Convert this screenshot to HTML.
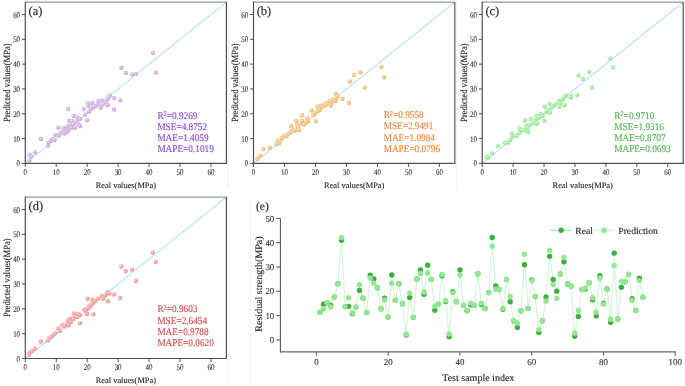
<!DOCTYPE html>
<html><head><meta charset="utf-8"><style>
html,body{margin:0;padding:0;background:#fff;}
svg{display:block;font-family:"Liberation Serif", serif;will-change:transform;text-rendering:geometricPrecision;}
</style></head><body>
<svg width="685" height="386" viewBox="0 0 685 386">
<defs><radialGradient id="ga" cx="0.5" cy="0.5" r="0.5" fx="0.32" fy="0.32"><stop offset="0" stop-color="#fbf6fd"/><stop offset="0.45" stop-color="#d6b6e5"/><stop offset="1" stop-color="#c29bd5"/></radialGradient><radialGradient id="gb" cx="0.5" cy="0.5" r="0.5" fx="0.32" fy="0.32"><stop offset="0" stop-color="#fff8ee"/><stop offset="0.45" stop-color="#f5c887"/><stop offset="1" stop-color="#e9ad62"/></radialGradient><radialGradient id="gc" cx="0.5" cy="0.5" r="0.5" fx="0.32" fy="0.32"><stop offset="0" stop-color="#f4fff4"/><stop offset="0.45" stop-color="#a6efa6"/><stop offset="1" stop-color="#88de88"/></radialGradient><radialGradient id="gd" cx="0.5" cy="0.5" r="0.5" fx="0.32" fy="0.32"><stop offset="0" stop-color="#fff3f3"/><stop offset="0.45" stop-color="#f5a5a5"/><stop offset="1" stop-color="#ea8a8a"/></radialGradient></defs>
<line x1="25.3" y1="163.4" x2="226.4" y2="2.1" stroke="#94d6f7" stroke-width="0.95"/>
<circle cx="29.40" cy="160.50" r="2.25" fill="url(#ga)" stroke="#fff" stroke-opacity="0.6" stroke-width="0.4"/>
<circle cx="29.70" cy="154.70" r="2.25" fill="url(#ga)" stroke="#fff" stroke-opacity="0.6" stroke-width="0.4"/>
<circle cx="31.20" cy="156.60" r="2.25" fill="url(#ga)" stroke="#fff" stroke-opacity="0.6" stroke-width="0.4"/>
<circle cx="35.00" cy="152.20" r="2.25" fill="url(#ga)" stroke="#fff" stroke-opacity="0.6" stroke-width="0.4"/>
<circle cx="40.90" cy="139.10" r="2.25" fill="url(#ga)" stroke="#fff" stroke-opacity="0.6" stroke-width="0.4"/>
<circle cx="48.00" cy="145.60" r="2.25" fill="url(#ga)" stroke="#fff" stroke-opacity="0.6" stroke-width="0.4"/>
<circle cx="48.60" cy="142.90" r="2.25" fill="url(#ga)" stroke="#fff" stroke-opacity="0.6" stroke-width="0.4"/>
<circle cx="87.80" cy="103.30" r="2.25" fill="url(#ga)" stroke="#fff" stroke-opacity="0.6" stroke-width="0.4"/>
<circle cx="121.40" cy="67.80" r="2.25" fill="url(#ga)" stroke="#fff" stroke-opacity="0.6" stroke-width="0.4"/>
<circle cx="125.80" cy="73.00" r="2.25" fill="url(#ga)" stroke="#fff" stroke-opacity="0.6" stroke-width="0.4"/>
<circle cx="132.10" cy="74.50" r="2.25" fill="url(#ga)" stroke="#fff" stroke-opacity="0.6" stroke-width="0.4"/>
<circle cx="135.90" cy="73.90" r="2.25" fill="url(#ga)" stroke="#fff" stroke-opacity="0.6" stroke-width="0.4"/>
<circle cx="153.00" cy="52.90" r="2.25" fill="url(#ga)" stroke="#fff" stroke-opacity="0.6" stroke-width="0.4"/>
<circle cx="155.90" cy="72.60" r="2.25" fill="url(#ga)" stroke="#fff" stroke-opacity="0.6" stroke-width="0.4"/>
<circle cx="68.10" cy="109.10" r="2.25" fill="url(#ga)" stroke="#fff" stroke-opacity="0.6" stroke-width="0.4"/>
<circle cx="83.70" cy="108.90" r="2.25" fill="url(#ga)" stroke="#fff" stroke-opacity="0.6" stroke-width="0.4"/>
<circle cx="88.30" cy="105.80" r="2.25" fill="url(#ga)" stroke="#fff" stroke-opacity="0.6" stroke-width="0.4"/>
<circle cx="88.90" cy="111.70" r="2.25" fill="url(#ga)" stroke="#fff" stroke-opacity="0.6" stroke-width="0.4"/>
<circle cx="85.20" cy="114.80" r="2.25" fill="url(#ga)" stroke="#fff" stroke-opacity="0.6" stroke-width="0.4"/>
<circle cx="87.10" cy="120.30" r="2.25" fill="url(#ga)" stroke="#fff" stroke-opacity="0.6" stroke-width="0.4"/>
<circle cx="73.80" cy="115.90" r="2.25" fill="url(#ga)" stroke="#fff" stroke-opacity="0.6" stroke-width="0.4"/>
<circle cx="77.50" cy="117.40" r="2.25" fill="url(#ga)" stroke="#fff" stroke-opacity="0.6" stroke-width="0.4"/>
<circle cx="80.10" cy="119.00" r="2.25" fill="url(#ga)" stroke="#fff" stroke-opacity="0.6" stroke-width="0.4"/>
<circle cx="69.00" cy="120.80" r="2.25" fill="url(#ga)" stroke="#fff" stroke-opacity="0.6" stroke-width="0.4"/>
<circle cx="72.30" cy="121.10" r="2.25" fill="url(#ga)" stroke="#fff" stroke-opacity="0.6" stroke-width="0.4"/>
<circle cx="76.40" cy="121.60" r="2.25" fill="url(#ga)" stroke="#fff" stroke-opacity="0.6" stroke-width="0.4"/>
<circle cx="78.50" cy="124.20" r="2.25" fill="url(#ga)" stroke="#fff" stroke-opacity="0.6" stroke-width="0.4"/>
<circle cx="80.10" cy="126.20" r="2.25" fill="url(#ga)" stroke="#fff" stroke-opacity="0.6" stroke-width="0.4"/>
<circle cx="73.30" cy="124.20" r="2.25" fill="url(#ga)" stroke="#fff" stroke-opacity="0.6" stroke-width="0.4"/>
<circle cx="70.20" cy="124.70" r="2.25" fill="url(#ga)" stroke="#fff" stroke-opacity="0.6" stroke-width="0.4"/>
<circle cx="67.60" cy="126.20" r="2.25" fill="url(#ga)" stroke="#fff" stroke-opacity="0.6" stroke-width="0.4"/>
<circle cx="74.90" cy="127.80" r="2.25" fill="url(#ga)" stroke="#fff" stroke-opacity="0.6" stroke-width="0.4"/>
<circle cx="71.80" cy="127.80" r="2.25" fill="url(#ga)" stroke="#fff" stroke-opacity="0.6" stroke-width="0.4"/>
<circle cx="68.70" cy="129.90" r="2.25" fill="url(#ga)" stroke="#fff" stroke-opacity="0.6" stroke-width="0.4"/>
<circle cx="65.50" cy="128.30" r="2.25" fill="url(#ga)" stroke="#fff" stroke-opacity="0.6" stroke-width="0.4"/>
<circle cx="63.50" cy="128.30" r="2.25" fill="url(#ga)" stroke="#fff" stroke-opacity="0.6" stroke-width="0.4"/>
<circle cx="58.30" cy="127.80" r="2.25" fill="url(#ga)" stroke="#fff" stroke-opacity="0.6" stroke-width="0.4"/>
<circle cx="63.00" cy="130.90" r="2.25" fill="url(#ga)" stroke="#fff" stroke-opacity="0.6" stroke-width="0.4"/>
<circle cx="67.10" cy="131.90" r="2.25" fill="url(#ga)" stroke="#fff" stroke-opacity="0.6" stroke-width="0.4"/>
<circle cx="60.40" cy="133.00" r="2.25" fill="url(#ga)" stroke="#fff" stroke-opacity="0.6" stroke-width="0.4"/>
<circle cx="64.50" cy="133.50" r="2.25" fill="url(#ga)" stroke="#fff" stroke-opacity="0.6" stroke-width="0.4"/>
<circle cx="55.20" cy="135.10" r="2.25" fill="url(#ga)" stroke="#fff" stroke-opacity="0.6" stroke-width="0.4"/>
<circle cx="58.80" cy="135.60" r="2.25" fill="url(#ga)" stroke="#fff" stroke-opacity="0.6" stroke-width="0.4"/>
<circle cx="52.60" cy="139.20" r="2.25" fill="url(#ga)" stroke="#fff" stroke-opacity="0.6" stroke-width="0.4"/>
<circle cx="54.70" cy="140.20" r="2.25" fill="url(#ga)" stroke="#fff" stroke-opacity="0.6" stroke-width="0.4"/>
<circle cx="51.00" cy="140.80" r="2.25" fill="url(#ga)" stroke="#fff" stroke-opacity="0.6" stroke-width="0.4"/>
<circle cx="92.30" cy="103.10" r="2.25" fill="url(#ga)" stroke="#fff" stroke-opacity="0.6" stroke-width="0.4"/>
<circle cx="98.30" cy="101.10" r="2.25" fill="url(#ga)" stroke="#fff" stroke-opacity="0.6" stroke-width="0.4"/>
<circle cx="102.10" cy="100.50" r="2.25" fill="url(#ga)" stroke="#fff" stroke-opacity="0.6" stroke-width="0.4"/>
<circle cx="109.90" cy="95.40" r="2.25" fill="url(#ga)" stroke="#fff" stroke-opacity="0.6" stroke-width="0.4"/>
<circle cx="108.30" cy="97.40" r="2.25" fill="url(#ga)" stroke="#fff" stroke-opacity="0.6" stroke-width="0.4"/>
<circle cx="114.00" cy="98.00" r="2.25" fill="url(#ga)" stroke="#fff" stroke-opacity="0.6" stroke-width="0.4"/>
<circle cx="120.20" cy="100.30" r="2.25" fill="url(#ga)" stroke="#fff" stroke-opacity="0.6" stroke-width="0.4"/>
<circle cx="107.30" cy="99.50" r="2.25" fill="url(#ga)" stroke="#fff" stroke-opacity="0.6" stroke-width="0.4"/>
<circle cx="105.70" cy="102.10" r="2.25" fill="url(#ga)" stroke="#fff" stroke-opacity="0.6" stroke-width="0.4"/>
<circle cx="103.70" cy="103.70" r="2.25" fill="url(#ga)" stroke="#fff" stroke-opacity="0.6" stroke-width="0.4"/>
<circle cx="107.80" cy="105.20" r="2.25" fill="url(#ga)" stroke="#fff" stroke-opacity="0.6" stroke-width="0.4"/>
<circle cx="101.60" cy="105.70" r="2.25" fill="url(#ga)" stroke="#fff" stroke-opacity="0.6" stroke-width="0.4"/>
<circle cx="100.50" cy="107.80" r="2.25" fill="url(#ga)" stroke="#fff" stroke-opacity="0.6" stroke-width="0.4"/>
<circle cx="97.40" cy="104.70" r="2.25" fill="url(#ga)" stroke="#fff" stroke-opacity="0.6" stroke-width="0.4"/>
<circle cx="95.40" cy="106.20" r="2.25" fill="url(#ga)" stroke="#fff" stroke-opacity="0.6" stroke-width="0.4"/>
<circle cx="93.30" cy="107.30" r="2.25" fill="url(#ga)" stroke="#fff" stroke-opacity="0.6" stroke-width="0.4"/>
<circle cx="91.20" cy="108.80" r="2.25" fill="url(#ga)" stroke="#fff" stroke-opacity="0.6" stroke-width="0.4"/>
<circle cx="114.00" cy="109.60" r="2.25" fill="url(#ga)" stroke="#fff" stroke-opacity="0.6" stroke-width="0.4"/>
<line x1="25.3" y1="2.1" x2="226.4" y2="2.1" stroke="#999" stroke-width="1.2"/>
<line x1="226.4" y1="2.1" x2="226.4" y2="163.4" stroke="#505050" stroke-width="1.2"/>
<line x1="25.3" y1="1.5" x2="25.3" y2="164.0" stroke="#505050" stroke-width="1.2"/>
<line x1="24.7" y1="163.4" x2="227.0" y2="163.4" stroke="#505050" stroke-width="1.2"/>
<line x1="25.30" y1="163.4" x2="25.30" y2="167.0" stroke="#505050" stroke-width="1"/>
<text transform="translate(25.30,175.30) scale(0.82,1)" font-size="8.5" text-anchor="middle" fill="#333" stroke="#333" stroke-width="0.12">0</text>
<line x1="21.900000000000002" y1="163.40" x2="25.3" y2="163.40" stroke="#505050" stroke-width="1"/>
<text transform="translate(20.10,166.40) scale(0.82,1)" font-size="8.5" text-anchor="end" fill="#333" stroke="#333" stroke-width="0.12">0</text>
<line x1="56.24" y1="163.4" x2="56.24" y2="167.0" stroke="#505050" stroke-width="1"/>
<text transform="translate(56.24,175.30) scale(0.82,1)" font-size="8.5" text-anchor="middle" fill="#333" stroke="#333" stroke-width="0.12">10</text>
<line x1="21.900000000000002" y1="138.58" x2="25.3" y2="138.58" stroke="#505050" stroke-width="1"/>
<text transform="translate(20.10,141.58) scale(0.82,1)" font-size="8.5" text-anchor="end" fill="#333" stroke="#333" stroke-width="0.12">10</text>
<line x1="87.18" y1="163.4" x2="87.18" y2="167.0" stroke="#505050" stroke-width="1"/>
<text transform="translate(87.18,175.30) scale(0.82,1)" font-size="8.5" text-anchor="middle" fill="#333" stroke="#333" stroke-width="0.12">20</text>
<line x1="21.900000000000002" y1="113.77" x2="25.3" y2="113.77" stroke="#505050" stroke-width="1"/>
<text transform="translate(20.10,116.77) scale(0.82,1)" font-size="8.5" text-anchor="end" fill="#333" stroke="#333" stroke-width="0.12">20</text>
<line x1="118.12" y1="163.4" x2="118.12" y2="167.0" stroke="#505050" stroke-width="1"/>
<text transform="translate(118.12,175.30) scale(0.82,1)" font-size="8.5" text-anchor="middle" fill="#333" stroke="#333" stroke-width="0.12">30</text>
<line x1="21.900000000000002" y1="88.95" x2="25.3" y2="88.95" stroke="#505050" stroke-width="1"/>
<text transform="translate(20.10,91.95) scale(0.82,1)" font-size="8.5" text-anchor="end" fill="#333" stroke="#333" stroke-width="0.12">30</text>
<line x1="149.05" y1="163.4" x2="149.05" y2="167.0" stroke="#505050" stroke-width="1"/>
<text transform="translate(149.05,175.30) scale(0.82,1)" font-size="8.5" text-anchor="middle" fill="#333" stroke="#333" stroke-width="0.12">40</text>
<line x1="21.900000000000002" y1="64.14" x2="25.3" y2="64.14" stroke="#505050" stroke-width="1"/>
<text transform="translate(20.10,67.14) scale(0.82,1)" font-size="8.5" text-anchor="end" fill="#333" stroke="#333" stroke-width="0.12">40</text>
<line x1="179.99" y1="163.4" x2="179.99" y2="167.0" stroke="#505050" stroke-width="1"/>
<text transform="translate(179.99,175.30) scale(0.82,1)" font-size="8.5" text-anchor="middle" fill="#333" stroke="#333" stroke-width="0.12">50</text>
<line x1="21.900000000000002" y1="39.32" x2="25.3" y2="39.32" stroke="#505050" stroke-width="1"/>
<text transform="translate(20.10,42.32) scale(0.82,1)" font-size="8.5" text-anchor="end" fill="#333" stroke="#333" stroke-width="0.12">50</text>
<line x1="210.93" y1="163.4" x2="210.93" y2="167.0" stroke="#505050" stroke-width="1"/>
<text transform="translate(210.93,175.30) scale(0.82,1)" font-size="8.5" text-anchor="middle" fill="#333" stroke="#333" stroke-width="0.12">60</text>
<line x1="21.900000000000002" y1="14.51" x2="25.3" y2="14.51" stroke="#505050" stroke-width="1"/>
<text transform="translate(20.10,17.51) scale(0.82,1)" font-size="8.5" text-anchor="end" fill="#333" stroke="#333" stroke-width="0.12">60</text>
<text x="125.9" y="188.0" font-size="8.4" text-anchor="middle" fill="#222" stroke="#222" stroke-width="0.12">Real values(MPa)</text>
<text transform="translate(9.8,82.7) rotate(-90) scale(1,1.1)" font-size="8.65" text-anchor="middle" fill="#222" stroke="#222" stroke-width="0.12">Predicted values(MPa)</text>
<text x="28.5" y="14.5" font-size="12.5" fill="#222" stroke="#222" stroke-width="0.12">(a)</text>
<text transform="translate(157.4,118.5) scale(1,1.1)" font-size="9.25" fill="#8e44d0" stroke="#8e44d0" stroke-width="0.12">R<tspan font-size="6.4" dy="-2.3">2</tspan><tspan dy="2.3">=</tspan>0.9269</text>
<text transform="translate(157.4,129.7) scale(1,1.1)" font-size="9.25" fill="#8e44d0" stroke="#8e44d0" stroke-width="0.12">MSE=4.8752</text>
<text transform="translate(157.4,140.9) scale(1,1.1)" font-size="9.25" fill="#8e44d0" stroke="#8e44d0" stroke-width="0.12">MAE=1.4059</text>
<text transform="translate(157.4,152.1) scale(1,1.1)" font-size="9.25" fill="#8e44d0" stroke="#8e44d0" stroke-width="0.12">MAPE=0.1019</text>
<line x1="253.5" y1="163.4" x2="454.9" y2="2.1" stroke="#94d6f7" stroke-width="0.95"/>
<circle cx="257.40" cy="159.00" r="2.25" fill="url(#gb)" stroke="#fff" stroke-opacity="0.6" stroke-width="0.4"/>
<circle cx="258.60" cy="157.20" r="2.25" fill="url(#gb)" stroke="#fff" stroke-opacity="0.6" stroke-width="0.4"/>
<circle cx="260.50" cy="155.90" r="2.25" fill="url(#gb)" stroke="#fff" stroke-opacity="0.6" stroke-width="0.4"/>
<circle cx="263.20" cy="149.10" r="2.25" fill="url(#gb)" stroke="#fff" stroke-opacity="0.6" stroke-width="0.4"/>
<circle cx="269.80" cy="147.90" r="2.25" fill="url(#gb)" stroke="#fff" stroke-opacity="0.6" stroke-width="0.4"/>
<circle cx="353.90" cy="75.00" r="2.25" fill="url(#gb)" stroke="#fff" stroke-opacity="0.6" stroke-width="0.4"/>
<circle cx="360.50" cy="72.60" r="2.25" fill="url(#gb)" stroke="#fff" stroke-opacity="0.6" stroke-width="0.4"/>
<circle cx="349.90" cy="81.60" r="2.25" fill="url(#gb)" stroke="#fff" stroke-opacity="0.6" stroke-width="0.4"/>
<circle cx="348.90" cy="103.00" r="2.25" fill="url(#gb)" stroke="#fff" stroke-opacity="0.6" stroke-width="0.4"/>
<circle cx="364.50" cy="87.50" r="2.25" fill="url(#gb)" stroke="#fff" stroke-opacity="0.6" stroke-width="0.4"/>
<circle cx="381.40" cy="66.90" r="2.25" fill="url(#gb)" stroke="#fff" stroke-opacity="0.6" stroke-width="0.4"/>
<circle cx="384.20" cy="77.20" r="2.25" fill="url(#gb)" stroke="#fff" stroke-opacity="0.6" stroke-width="0.4"/>
<circle cx="276.70" cy="144.20" r="2.25" fill="url(#gb)" stroke="#fff" stroke-opacity="0.6" stroke-width="0.4"/>
<circle cx="277.80" cy="141.10" r="2.25" fill="url(#gb)" stroke="#fff" stroke-opacity="0.6" stroke-width="0.4"/>
<circle cx="280.40" cy="140.10" r="2.25" fill="url(#gb)" stroke="#fff" stroke-opacity="0.6" stroke-width="0.4"/>
<circle cx="281.90" cy="138.00" r="2.25" fill="url(#gb)" stroke="#fff" stroke-opacity="0.6" stroke-width="0.4"/>
<circle cx="284.00" cy="135.40" r="2.25" fill="url(#gb)" stroke="#fff" stroke-opacity="0.6" stroke-width="0.4"/>
<circle cx="286.60" cy="135.90" r="2.25" fill="url(#gb)" stroke="#fff" stroke-opacity="0.6" stroke-width="0.4"/>
<circle cx="288.10" cy="133.80" r="2.25" fill="url(#gb)" stroke="#fff" stroke-opacity="0.6" stroke-width="0.4"/>
<circle cx="290.70" cy="132.30" r="2.25" fill="url(#gb)" stroke="#fff" stroke-opacity="0.6" stroke-width="0.4"/>
<circle cx="291.20" cy="126.10" r="2.25" fill="url(#gb)" stroke="#fff" stroke-opacity="0.6" stroke-width="0.4"/>
<circle cx="292.80" cy="129.20" r="2.25" fill="url(#gb)" stroke="#fff" stroke-opacity="0.6" stroke-width="0.4"/>
<circle cx="294.90" cy="130.70" r="2.25" fill="url(#gb)" stroke="#fff" stroke-opacity="0.6" stroke-width="0.4"/>
<circle cx="296.40" cy="120.90" r="2.25" fill="url(#gb)" stroke="#fff" stroke-opacity="0.6" stroke-width="0.4"/>
<circle cx="297.20" cy="125.00" r="2.25" fill="url(#gb)" stroke="#fff" stroke-opacity="0.6" stroke-width="0.4"/>
<circle cx="298.00" cy="127.60" r="2.25" fill="url(#gb)" stroke="#fff" stroke-opacity="0.6" stroke-width="0.4"/>
<circle cx="299.00" cy="130.20" r="2.25" fill="url(#gb)" stroke="#fff" stroke-opacity="0.6" stroke-width="0.4"/>
<circle cx="301.10" cy="123.50" r="2.25" fill="url(#gb)" stroke="#fff" stroke-opacity="0.6" stroke-width="0.4"/>
<circle cx="302.10" cy="115.20" r="2.25" fill="url(#gb)" stroke="#fff" stroke-opacity="0.6" stroke-width="0.4"/>
<circle cx="302.10" cy="120.90" r="2.25" fill="url(#gb)" stroke="#fff" stroke-opacity="0.6" stroke-width="0.4"/>
<circle cx="304.20" cy="124.50" r="2.25" fill="url(#gb)" stroke="#fff" stroke-opacity="0.6" stroke-width="0.4"/>
<circle cx="279.30" cy="143.20" r="2.25" fill="url(#gb)" stroke="#fff" stroke-opacity="0.6" stroke-width="0.4"/>
<circle cx="307.10" cy="118.20" r="2.25" fill="url(#gb)" stroke="#fff" stroke-opacity="0.6" stroke-width="0.4"/>
<circle cx="308.10" cy="121.30" r="2.25" fill="url(#gb)" stroke="#fff" stroke-opacity="0.6" stroke-width="0.4"/>
<circle cx="306.60" cy="122.30" r="2.25" fill="url(#gb)" stroke="#fff" stroke-opacity="0.6" stroke-width="0.4"/>
<circle cx="311.70" cy="110.40" r="2.25" fill="url(#gb)" stroke="#fff" stroke-opacity="0.6" stroke-width="0.4"/>
<circle cx="313.30" cy="115.10" r="2.25" fill="url(#gb)" stroke="#fff" stroke-opacity="0.6" stroke-width="0.4"/>
<circle cx="315.90" cy="121.30" r="2.25" fill="url(#gb)" stroke="#fff" stroke-opacity="0.6" stroke-width="0.4"/>
<circle cx="315.40" cy="113.00" r="2.25" fill="url(#gb)" stroke="#fff" stroke-opacity="0.6" stroke-width="0.4"/>
<circle cx="317.40" cy="106.80" r="2.25" fill="url(#gb)" stroke="#fff" stroke-opacity="0.6" stroke-width="0.4"/>
<circle cx="318.00" cy="110.90" r="2.25" fill="url(#gb)" stroke="#fff" stroke-opacity="0.6" stroke-width="0.4"/>
<circle cx="320.00" cy="109.90" r="2.25" fill="url(#gb)" stroke="#fff" stroke-opacity="0.6" stroke-width="0.4"/>
<circle cx="320.50" cy="105.70" r="2.25" fill="url(#gb)" stroke="#fff" stroke-opacity="0.6" stroke-width="0.4"/>
<circle cx="323.10" cy="106.80" r="2.25" fill="url(#gb)" stroke="#fff" stroke-opacity="0.6" stroke-width="0.4"/>
<circle cx="324.20" cy="104.20" r="2.25" fill="url(#gb)" stroke="#fff" stroke-opacity="0.6" stroke-width="0.4"/>
<circle cx="326.20" cy="104.70" r="2.25" fill="url(#gb)" stroke="#fff" stroke-opacity="0.6" stroke-width="0.4"/>
<circle cx="327.30" cy="103.10" r="2.25" fill="url(#gb)" stroke="#fff" stroke-opacity="0.6" stroke-width="0.4"/>
<circle cx="329.90" cy="101.10" r="2.25" fill="url(#gb)" stroke="#fff" stroke-opacity="0.6" stroke-width="0.4"/>
<circle cx="330.90" cy="105.70" r="2.25" fill="url(#gb)" stroke="#fff" stroke-opacity="0.6" stroke-width="0.4"/>
<circle cx="331.90" cy="102.10" r="2.25" fill="url(#gb)" stroke="#fff" stroke-opacity="0.6" stroke-width="0.4"/>
<circle cx="333.00" cy="99.50" r="2.25" fill="url(#gb)" stroke="#fff" stroke-opacity="0.6" stroke-width="0.4"/>
<circle cx="335.60" cy="101.10" r="2.25" fill="url(#gb)" stroke="#fff" stroke-opacity="0.6" stroke-width="0.4"/>
<circle cx="336.10" cy="98.50" r="2.25" fill="url(#gb)" stroke="#fff" stroke-opacity="0.6" stroke-width="0.4"/>
<circle cx="335.60" cy="93.80" r="2.25" fill="url(#gb)" stroke="#fff" stroke-opacity="0.6" stroke-width="0.4"/>
<circle cx="337.60" cy="95.90" r="2.25" fill="url(#gb)" stroke="#fff" stroke-opacity="0.6" stroke-width="0.4"/>
<circle cx="342.30" cy="99.00" r="2.25" fill="url(#gb)" stroke="#fff" stroke-opacity="0.6" stroke-width="0.4"/>
<line x1="253.5" y1="2.1" x2="454.9" y2="2.1" stroke="#999" stroke-width="1.2"/>
<line x1="454.9" y1="2.1" x2="454.9" y2="163.4" stroke="#505050" stroke-width="1.2"/>
<line x1="253.5" y1="1.5" x2="253.5" y2="164.0" stroke="#505050" stroke-width="1.2"/>
<line x1="252.9" y1="163.4" x2="455.5" y2="163.4" stroke="#505050" stroke-width="1.2"/>
<line x1="253.50" y1="163.4" x2="253.50" y2="167.0" stroke="#505050" stroke-width="1"/>
<text transform="translate(253.50,175.30) scale(0.82,1)" font-size="8.5" text-anchor="middle" fill="#333" stroke="#333" stroke-width="0.12">0</text>
<line x1="250.1" y1="163.40" x2="253.5" y2="163.40" stroke="#505050" stroke-width="1"/>
<text transform="translate(248.30,166.40) scale(0.82,1)" font-size="8.5" text-anchor="end" fill="#333" stroke="#333" stroke-width="0.12">0</text>
<line x1="284.48" y1="163.4" x2="284.48" y2="167.0" stroke="#505050" stroke-width="1"/>
<text transform="translate(284.48,175.30) scale(0.82,1)" font-size="8.5" text-anchor="middle" fill="#333" stroke="#333" stroke-width="0.12">10</text>
<line x1="250.1" y1="138.58" x2="253.5" y2="138.58" stroke="#505050" stroke-width="1"/>
<text transform="translate(248.30,141.58) scale(0.82,1)" font-size="8.5" text-anchor="end" fill="#333" stroke="#333" stroke-width="0.12">10</text>
<line x1="315.47" y1="163.4" x2="315.47" y2="167.0" stroke="#505050" stroke-width="1"/>
<text transform="translate(315.47,175.30) scale(0.82,1)" font-size="8.5" text-anchor="middle" fill="#333" stroke="#333" stroke-width="0.12">20</text>
<line x1="250.1" y1="113.77" x2="253.5" y2="113.77" stroke="#505050" stroke-width="1"/>
<text transform="translate(248.30,116.77) scale(0.82,1)" font-size="8.5" text-anchor="end" fill="#333" stroke="#333" stroke-width="0.12">20</text>
<line x1="346.45" y1="163.4" x2="346.45" y2="167.0" stroke="#505050" stroke-width="1"/>
<text transform="translate(346.45,175.30) scale(0.82,1)" font-size="8.5" text-anchor="middle" fill="#333" stroke="#333" stroke-width="0.12">30</text>
<line x1="250.1" y1="88.95" x2="253.5" y2="88.95" stroke="#505050" stroke-width="1"/>
<text transform="translate(248.30,91.95) scale(0.82,1)" font-size="8.5" text-anchor="end" fill="#333" stroke="#333" stroke-width="0.12">30</text>
<line x1="377.44" y1="163.4" x2="377.44" y2="167.0" stroke="#505050" stroke-width="1"/>
<text transform="translate(377.44,175.30) scale(0.82,1)" font-size="8.5" text-anchor="middle" fill="#333" stroke="#333" stroke-width="0.12">40</text>
<line x1="250.1" y1="64.14" x2="253.5" y2="64.14" stroke="#505050" stroke-width="1"/>
<text transform="translate(248.30,67.14) scale(0.82,1)" font-size="8.5" text-anchor="end" fill="#333" stroke="#333" stroke-width="0.12">40</text>
<line x1="408.42" y1="163.4" x2="408.42" y2="167.0" stroke="#505050" stroke-width="1"/>
<text transform="translate(408.42,175.30) scale(0.82,1)" font-size="8.5" text-anchor="middle" fill="#333" stroke="#333" stroke-width="0.12">50</text>
<line x1="250.1" y1="39.32" x2="253.5" y2="39.32" stroke="#505050" stroke-width="1"/>
<text transform="translate(248.30,42.32) scale(0.82,1)" font-size="8.5" text-anchor="end" fill="#333" stroke="#333" stroke-width="0.12">50</text>
<line x1="439.41" y1="163.4" x2="439.41" y2="167.0" stroke="#505050" stroke-width="1"/>
<text transform="translate(439.41,175.30) scale(0.82,1)" font-size="8.5" text-anchor="middle" fill="#333" stroke="#333" stroke-width="0.12">60</text>
<line x1="250.1" y1="14.51" x2="253.5" y2="14.51" stroke="#505050" stroke-width="1"/>
<text transform="translate(248.30,17.51) scale(0.82,1)" font-size="8.5" text-anchor="end" fill="#333" stroke="#333" stroke-width="0.12">60</text>
<text x="354.2" y="188.0" font-size="8.4" text-anchor="middle" fill="#222" stroke="#222" stroke-width="0.12">Real values(MPa)</text>
<text transform="translate(238.0,82.7) rotate(-90) scale(1,1.1)" font-size="8.65" text-anchor="middle" fill="#222" stroke="#222" stroke-width="0.12">Predicted values(MPa)</text>
<text x="256.7" y="14.5" font-size="12.5" fill="#222" stroke="#222" stroke-width="0.12">(b)</text>
<text transform="translate(383.7,118.2) scale(1,1.1)" font-size="9.25" fill="#ef8635" stroke="#ef8635" stroke-width="0.12">R<tspan font-size="6.4" dy="-2.3">2</tspan><tspan dy="2.3">=</tspan>0.9558</text>
<text transform="translate(383.7,129.4) scale(1,1.1)" font-size="9.25" fill="#ef8635" stroke="#ef8635" stroke-width="0.12">MSE=2.9491</text>
<text transform="translate(383.7,140.6) scale(1,1.1)" font-size="9.25" fill="#ef8635" stroke="#ef8635" stroke-width="0.12">MAE=1.0984</text>
<text transform="translate(383.7,151.8) scale(1,1.1)" font-size="9.25" fill="#ef8635" stroke="#ef8635" stroke-width="0.12">MAPE=0.0796</text>
<line x1="482.2" y1="163.4" x2="683.2" y2="2.1" stroke="#94d6f7" stroke-width="0.95"/>
<circle cx="486.40" cy="157.20" r="2.25" fill="url(#gc)" stroke="#fff" stroke-opacity="0.6" stroke-width="0.4"/>
<circle cx="488.20" cy="157.60" r="2.25" fill="url(#gc)" stroke="#fff" stroke-opacity="0.6" stroke-width="0.4"/>
<circle cx="492.00" cy="153.40" r="2.25" fill="url(#gc)" stroke="#fff" stroke-opacity="0.6" stroke-width="0.4"/>
<circle cx="497.90" cy="146.00" r="2.25" fill="url(#gc)" stroke="#fff" stroke-opacity="0.6" stroke-width="0.4"/>
<circle cx="578.40" cy="75.40" r="2.25" fill="url(#gc)" stroke="#fff" stroke-opacity="0.6" stroke-width="0.4"/>
<circle cx="582.80" cy="79.10" r="2.25" fill="url(#gc)" stroke="#fff" stroke-opacity="0.6" stroke-width="0.4"/>
<circle cx="589.10" cy="71.90" r="2.25" fill="url(#gc)" stroke="#fff" stroke-opacity="0.6" stroke-width="0.4"/>
<circle cx="591.90" cy="87.60" r="2.25" fill="url(#gc)" stroke="#fff" stroke-opacity="0.6" stroke-width="0.4"/>
<circle cx="577.40" cy="94.90" r="2.25" fill="url(#gc)" stroke="#fff" stroke-opacity="0.6" stroke-width="0.4"/>
<circle cx="610.10" cy="58.70" r="2.25" fill="url(#gc)" stroke="#fff" stroke-opacity="0.6" stroke-width="0.4"/>
<circle cx="613.00" cy="67.60" r="2.25" fill="url(#gc)" stroke="#fff" stroke-opacity="0.6" stroke-width="0.4"/>
<circle cx="504.70" cy="142.80" r="2.25" fill="url(#gc)" stroke="#fff" stroke-opacity="0.6" stroke-width="0.4"/>
<circle cx="507.80" cy="142.80" r="2.25" fill="url(#gc)" stroke="#fff" stroke-opacity="0.6" stroke-width="0.4"/>
<circle cx="510.40" cy="139.70" r="2.25" fill="url(#gc)" stroke="#fff" stroke-opacity="0.6" stroke-width="0.4"/>
<circle cx="511.90" cy="133.50" r="2.25" fill="url(#gc)" stroke="#fff" stroke-opacity="0.6" stroke-width="0.4"/>
<circle cx="512.40" cy="135.60" r="2.25" fill="url(#gc)" stroke="#fff" stroke-opacity="0.6" stroke-width="0.4"/>
<circle cx="516.60" cy="136.10" r="2.25" fill="url(#gc)" stroke="#fff" stroke-opacity="0.6" stroke-width="0.4"/>
<circle cx="519.20" cy="133.00" r="2.25" fill="url(#gc)" stroke="#fff" stroke-opacity="0.6" stroke-width="0.4"/>
<circle cx="519.70" cy="128.80" r="2.25" fill="url(#gc)" stroke="#fff" stroke-opacity="0.6" stroke-width="0.4"/>
<circle cx="521.80" cy="130.40" r="2.25" fill="url(#gc)" stroke="#fff" stroke-opacity="0.6" stroke-width="0.4"/>
<circle cx="524.90" cy="120.30" r="2.25" fill="url(#gc)" stroke="#fff" stroke-opacity="0.6" stroke-width="0.4"/>
<circle cx="524.90" cy="129.90" r="2.25" fill="url(#gc)" stroke="#fff" stroke-opacity="0.6" stroke-width="0.4"/>
<circle cx="526.40" cy="125.70" r="2.25" fill="url(#gc)" stroke="#fff" stroke-opacity="0.6" stroke-width="0.4"/>
<circle cx="527.50" cy="127.80" r="2.25" fill="url(#gc)" stroke="#fff" stroke-opacity="0.6" stroke-width="0.4"/>
<circle cx="528.00" cy="132.00" r="2.25" fill="url(#gc)" stroke="#fff" stroke-opacity="0.6" stroke-width="0.4"/>
<circle cx="530.10" cy="124.70" r="2.25" fill="url(#gc)" stroke="#fff" stroke-opacity="0.6" stroke-width="0.4"/>
<circle cx="530.60" cy="119.00" r="2.25" fill="url(#gc)" stroke="#fff" stroke-opacity="0.6" stroke-width="0.4"/>
<circle cx="533.20" cy="120.50" r="2.25" fill="url(#gc)" stroke="#fff" stroke-opacity="0.6" stroke-width="0.4"/>
<circle cx="533.70" cy="123.10" r="2.25" fill="url(#gc)" stroke="#fff" stroke-opacity="0.6" stroke-width="0.4"/>
<circle cx="536.30" cy="115.90" r="2.25" fill="url(#gc)" stroke="#fff" stroke-opacity="0.6" stroke-width="0.4"/>
<circle cx="536.80" cy="119.00" r="2.25" fill="url(#gc)" stroke="#fff" stroke-opacity="0.6" stroke-width="0.4"/>
<circle cx="536.80" cy="123.70" r="2.25" fill="url(#gc)" stroke="#fff" stroke-opacity="0.6" stroke-width="0.4"/>
<circle cx="539.40" cy="117.40" r="2.25" fill="url(#gc)" stroke="#fff" stroke-opacity="0.6" stroke-width="0.4"/>
<circle cx="540.70" cy="114.00" r="2.25" fill="url(#gc)" stroke="#fff" stroke-opacity="0.6" stroke-width="0.4"/>
<circle cx="542.80" cy="116.10" r="2.25" fill="url(#gc)" stroke="#fff" stroke-opacity="0.6" stroke-width="0.4"/>
<circle cx="544.30" cy="120.80" r="2.25" fill="url(#gc)" stroke="#fff" stroke-opacity="0.6" stroke-width="0.4"/>
<circle cx="544.80" cy="106.80" r="2.25" fill="url(#gc)" stroke="#fff" stroke-opacity="0.6" stroke-width="0.4"/>
<circle cx="546.40" cy="111.90" r="2.25" fill="url(#gc)" stroke="#fff" stroke-opacity="0.6" stroke-width="0.4"/>
<circle cx="548.50" cy="109.90" r="2.25" fill="url(#gc)" stroke="#fff" stroke-opacity="0.6" stroke-width="0.4"/>
<circle cx="550.00" cy="112.50" r="2.25" fill="url(#gc)" stroke="#fff" stroke-opacity="0.6" stroke-width="0.4"/>
<circle cx="549.50" cy="103.70" r="2.25" fill="url(#gc)" stroke="#fff" stroke-opacity="0.6" stroke-width="0.4"/>
<circle cx="551.60" cy="107.80" r="2.25" fill="url(#gc)" stroke="#fff" stroke-opacity="0.6" stroke-width="0.4"/>
<circle cx="553.70" cy="105.70" r="2.25" fill="url(#gc)" stroke="#fff" stroke-opacity="0.6" stroke-width="0.4"/>
<circle cx="555.20" cy="104.20" r="2.25" fill="url(#gc)" stroke="#fff" stroke-opacity="0.6" stroke-width="0.4"/>
<circle cx="558.80" cy="101.10" r="2.25" fill="url(#gc)" stroke="#fff" stroke-opacity="0.6" stroke-width="0.4"/>
<circle cx="559.40" cy="106.80" r="2.25" fill="url(#gc)" stroke="#fff" stroke-opacity="0.6" stroke-width="0.4"/>
<circle cx="560.40" cy="103.10" r="2.25" fill="url(#gc)" stroke="#fff" stroke-opacity="0.6" stroke-width="0.4"/>
<circle cx="562.50" cy="99.50" r="2.25" fill="url(#gc)" stroke="#fff" stroke-opacity="0.6" stroke-width="0.4"/>
<circle cx="564.50" cy="96.90" r="2.25" fill="url(#gc)" stroke="#fff" stroke-opacity="0.6" stroke-width="0.4"/>
<circle cx="564.50" cy="105.20" r="2.25" fill="url(#gc)" stroke="#fff" stroke-opacity="0.6" stroke-width="0.4"/>
<circle cx="566.10" cy="95.40" r="2.25" fill="url(#gc)" stroke="#fff" stroke-opacity="0.6" stroke-width="0.4"/>
<circle cx="570.80" cy="95.90" r="2.25" fill="url(#gc)" stroke="#fff" stroke-opacity="0.6" stroke-width="0.4"/>
<circle cx="570.80" cy="97.40" r="2.25" fill="url(#gc)" stroke="#fff" stroke-opacity="0.6" stroke-width="0.4"/>
<line x1="482.2" y1="2.1" x2="683.2" y2="2.1" stroke="#999" stroke-width="1.2"/>
<line x1="683.2" y1="2.1" x2="683.2" y2="163.4" stroke="#505050" stroke-width="1.2"/>
<line x1="482.2" y1="1.5" x2="482.2" y2="164.0" stroke="#505050" stroke-width="1.2"/>
<line x1="481.59999999999997" y1="163.4" x2="683.8000000000001" y2="163.4" stroke="#505050" stroke-width="1.2"/>
<line x1="482.20" y1="163.4" x2="482.20" y2="167.0" stroke="#505050" stroke-width="1"/>
<text transform="translate(482.20,175.30) scale(0.82,1)" font-size="8.5" text-anchor="middle" fill="#333" stroke="#333" stroke-width="0.12">0</text>
<line x1="478.8" y1="163.40" x2="482.2" y2="163.40" stroke="#505050" stroke-width="1"/>
<text transform="translate(477.00,166.40) scale(0.82,1)" font-size="8.5" text-anchor="end" fill="#333" stroke="#333" stroke-width="0.12">0</text>
<line x1="513.12" y1="163.4" x2="513.12" y2="167.0" stroke="#505050" stroke-width="1"/>
<text transform="translate(513.12,175.30) scale(0.82,1)" font-size="8.5" text-anchor="middle" fill="#333" stroke="#333" stroke-width="0.12">10</text>
<line x1="478.8" y1="138.58" x2="482.2" y2="138.58" stroke="#505050" stroke-width="1"/>
<text transform="translate(477.00,141.58) scale(0.82,1)" font-size="8.5" text-anchor="end" fill="#333" stroke="#333" stroke-width="0.12">10</text>
<line x1="544.05" y1="163.4" x2="544.05" y2="167.0" stroke="#505050" stroke-width="1"/>
<text transform="translate(544.05,175.30) scale(0.82,1)" font-size="8.5" text-anchor="middle" fill="#333" stroke="#333" stroke-width="0.12">20</text>
<line x1="478.8" y1="113.77" x2="482.2" y2="113.77" stroke="#505050" stroke-width="1"/>
<text transform="translate(477.00,116.77) scale(0.82,1)" font-size="8.5" text-anchor="end" fill="#333" stroke="#333" stroke-width="0.12">20</text>
<line x1="574.97" y1="163.4" x2="574.97" y2="167.0" stroke="#505050" stroke-width="1"/>
<text transform="translate(574.97,175.30) scale(0.82,1)" font-size="8.5" text-anchor="middle" fill="#333" stroke="#333" stroke-width="0.12">30</text>
<line x1="478.8" y1="88.95" x2="482.2" y2="88.95" stroke="#505050" stroke-width="1"/>
<text transform="translate(477.00,91.95) scale(0.82,1)" font-size="8.5" text-anchor="end" fill="#333" stroke="#333" stroke-width="0.12">30</text>
<line x1="605.89" y1="163.4" x2="605.89" y2="167.0" stroke="#505050" stroke-width="1"/>
<text transform="translate(605.89,175.30) scale(0.82,1)" font-size="8.5" text-anchor="middle" fill="#333" stroke="#333" stroke-width="0.12">40</text>
<line x1="478.8" y1="64.14" x2="482.2" y2="64.14" stroke="#505050" stroke-width="1"/>
<text transform="translate(477.00,67.14) scale(0.82,1)" font-size="8.5" text-anchor="end" fill="#333" stroke="#333" stroke-width="0.12">40</text>
<line x1="636.82" y1="163.4" x2="636.82" y2="167.0" stroke="#505050" stroke-width="1"/>
<text transform="translate(636.82,175.30) scale(0.82,1)" font-size="8.5" text-anchor="middle" fill="#333" stroke="#333" stroke-width="0.12">50</text>
<line x1="478.8" y1="39.32" x2="482.2" y2="39.32" stroke="#505050" stroke-width="1"/>
<text transform="translate(477.00,42.32) scale(0.82,1)" font-size="8.5" text-anchor="end" fill="#333" stroke="#333" stroke-width="0.12">50</text>
<line x1="667.74" y1="163.4" x2="667.74" y2="167.0" stroke="#505050" stroke-width="1"/>
<text transform="translate(667.74,175.30) scale(0.82,1)" font-size="8.5" text-anchor="middle" fill="#333" stroke="#333" stroke-width="0.12">60</text>
<line x1="478.8" y1="14.51" x2="482.2" y2="14.51" stroke="#505050" stroke-width="1"/>
<text transform="translate(477.00,17.51) scale(0.82,1)" font-size="8.5" text-anchor="end" fill="#333" stroke="#333" stroke-width="0.12">60</text>
<text x="582.7" y="188.0" font-size="8.4" text-anchor="middle" fill="#222" stroke="#222" stroke-width="0.12">Real values(MPa)</text>
<text transform="translate(466.7,82.7) rotate(-90) scale(1,1.1)" font-size="8.65" text-anchor="middle" fill="#222" stroke="#222" stroke-width="0.12">Predicted values(MPa)</text>
<text x="485.4" y="14.5" font-size="12.5" fill="#222" stroke="#222" stroke-width="0.12">(c)</text>
<text transform="translate(614.3,118.5) scale(1,1.1)" font-size="9.25" fill="#4fb34f" stroke="#4fb34f" stroke-width="0.12">R<tspan font-size="6.4" dy="-2.3">2</tspan><tspan dy="2.3">=</tspan>0.9710</text>
<text transform="translate(614.3,129.7) scale(1,1.1)" font-size="9.25" fill="#4fb34f" stroke="#4fb34f" stroke-width="0.12">MSE=1.9316</text>
<text transform="translate(614.3,140.9) scale(1,1.1)" font-size="9.25" fill="#4fb34f" stroke="#4fb34f" stroke-width="0.12">MAE=0.8707</text>
<text transform="translate(614.3,152.1) scale(1,1.1)" font-size="9.25" fill="#4fb34f" stroke="#4fb34f" stroke-width="0.12">MAPE=0.0693</text>
<line x1="25.3" y1="358.5" x2="226.4" y2="197.1" stroke="#94d6f7" stroke-width="0.95"/>
<circle cx="29.10" cy="354.70" r="2.25" fill="url(#gd)" stroke="#fff" stroke-opacity="0.6" stroke-width="0.4"/>
<circle cx="30.00" cy="352.20" r="2.25" fill="url(#gd)" stroke="#fff" stroke-opacity="0.6" stroke-width="0.4"/>
<circle cx="31.80" cy="351.30" r="2.25" fill="url(#gd)" stroke="#fff" stroke-opacity="0.6" stroke-width="0.4"/>
<circle cx="35.00" cy="349.10" r="2.25" fill="url(#gd)" stroke="#fff" stroke-opacity="0.6" stroke-width="0.4"/>
<circle cx="40.90" cy="341.60" r="2.25" fill="url(#gd)" stroke="#fff" stroke-opacity="0.6" stroke-width="0.4"/>
<circle cx="48.00" cy="340.40" r="2.25" fill="url(#gd)" stroke="#fff" stroke-opacity="0.6" stroke-width="0.4"/>
<circle cx="49.30" cy="337.90" r="2.25" fill="url(#gd)" stroke="#fff" stroke-opacity="0.6" stroke-width="0.4"/>
<circle cx="121.40" cy="266.40" r="2.25" fill="url(#gd)" stroke="#fff" stroke-opacity="0.6" stroke-width="0.4"/>
<circle cx="125.80" cy="271.10" r="2.25" fill="url(#gd)" stroke="#fff" stroke-opacity="0.6" stroke-width="0.4"/>
<circle cx="132.10" cy="269.80" r="2.25" fill="url(#gd)" stroke="#fff" stroke-opacity="0.6" stroke-width="0.4"/>
<circle cx="135.90" cy="281.10" r="2.25" fill="url(#gd)" stroke="#fff" stroke-opacity="0.6" stroke-width="0.4"/>
<circle cx="152.80" cy="252.80" r="2.25" fill="url(#gd)" stroke="#fff" stroke-opacity="0.6" stroke-width="0.4"/>
<circle cx="155.80" cy="262.10" r="2.25" fill="url(#gd)" stroke="#fff" stroke-opacity="0.6" stroke-width="0.4"/>
<circle cx="51.00" cy="337.30" r="2.25" fill="url(#gd)" stroke="#fff" stroke-opacity="0.6" stroke-width="0.4"/>
<circle cx="53.10" cy="335.20" r="2.25" fill="url(#gd)" stroke="#fff" stroke-opacity="0.6" stroke-width="0.4"/>
<circle cx="55.20" cy="333.20" r="2.25" fill="url(#gd)" stroke="#fff" stroke-opacity="0.6" stroke-width="0.4"/>
<circle cx="58.30" cy="328.50" r="2.25" fill="url(#gd)" stroke="#fff" stroke-opacity="0.6" stroke-width="0.4"/>
<circle cx="59.80" cy="331.10" r="2.25" fill="url(#gd)" stroke="#fff" stroke-opacity="0.6" stroke-width="0.4"/>
<circle cx="62.40" cy="324.90" r="2.25" fill="url(#gd)" stroke="#fff" stroke-opacity="0.6" stroke-width="0.4"/>
<circle cx="64.50" cy="326.40" r="2.25" fill="url(#gd)" stroke="#fff" stroke-opacity="0.6" stroke-width="0.4"/>
<circle cx="67.10" cy="323.80" r="2.25" fill="url(#gd)" stroke="#fff" stroke-opacity="0.6" stroke-width="0.4"/>
<circle cx="68.10" cy="320.20" r="2.25" fill="url(#gd)" stroke="#fff" stroke-opacity="0.6" stroke-width="0.4"/>
<circle cx="70.20" cy="318.70" r="2.25" fill="url(#gd)" stroke="#fff" stroke-opacity="0.6" stroke-width="0.4"/>
<circle cx="70.70" cy="322.30" r="2.25" fill="url(#gd)" stroke="#fff" stroke-opacity="0.6" stroke-width="0.4"/>
<circle cx="68.70" cy="325.40" r="2.25" fill="url(#gd)" stroke="#fff" stroke-opacity="0.6" stroke-width="0.4"/>
<circle cx="73.30" cy="319.20" r="2.25" fill="url(#gd)" stroke="#fff" stroke-opacity="0.6" stroke-width="0.4"/>
<circle cx="73.80" cy="313.50" r="2.25" fill="url(#gd)" stroke="#fff" stroke-opacity="0.6" stroke-width="0.4"/>
<circle cx="74.90" cy="316.60" r="2.25" fill="url(#gd)" stroke="#fff" stroke-opacity="0.6" stroke-width="0.4"/>
<circle cx="77.50" cy="317.10" r="2.25" fill="url(#gd)" stroke="#fff" stroke-opacity="0.6" stroke-width="0.4"/>
<circle cx="78.00" cy="314.00" r="2.25" fill="url(#gd)" stroke="#fff" stroke-opacity="0.6" stroke-width="0.4"/>
<circle cx="80.10" cy="315.00" r="2.25" fill="url(#gd)" stroke="#fff" stroke-opacity="0.6" stroke-width="0.4"/>
<circle cx="80.10" cy="323.30" r="2.25" fill="url(#gd)" stroke="#fff" stroke-opacity="0.6" stroke-width="0.4"/>
<circle cx="84.20" cy="309.80" r="2.25" fill="url(#gd)" stroke="#fff" stroke-opacity="0.6" stroke-width="0.4"/>
<circle cx="85.80" cy="311.40" r="2.25" fill="url(#gd)" stroke="#fff" stroke-opacity="0.6" stroke-width="0.4"/>
<circle cx="87.30" cy="314.00" r="2.25" fill="url(#gd)" stroke="#fff" stroke-opacity="0.6" stroke-width="0.4"/>
<circle cx="88.90" cy="306.20" r="2.25" fill="url(#gd)" stroke="#fff" stroke-opacity="0.6" stroke-width="0.4"/>
<circle cx="87.60" cy="298.70" r="2.25" fill="url(#gd)" stroke="#fff" stroke-opacity="0.6" stroke-width="0.4"/>
<circle cx="92.30" cy="299.70" r="2.25" fill="url(#gd)" stroke="#fff" stroke-opacity="0.6" stroke-width="0.4"/>
<circle cx="98.00" cy="298.70" r="2.25" fill="url(#gd)" stroke="#fff" stroke-opacity="0.6" stroke-width="0.4"/>
<circle cx="95.40" cy="300.70" r="2.25" fill="url(#gd)" stroke="#fff" stroke-opacity="0.6" stroke-width="0.4"/>
<circle cx="93.30" cy="302.80" r="2.25" fill="url(#gd)" stroke="#fff" stroke-opacity="0.6" stroke-width="0.4"/>
<circle cx="91.20" cy="304.90" r="2.25" fill="url(#gd)" stroke="#fff" stroke-opacity="0.6" stroke-width="0.4"/>
<circle cx="89.70" cy="306.90" r="2.25" fill="url(#gd)" stroke="#fff" stroke-opacity="0.6" stroke-width="0.4"/>
<circle cx="88.10" cy="308.50" r="2.25" fill="url(#gd)" stroke="#fff" stroke-opacity="0.6" stroke-width="0.4"/>
<circle cx="86.00" cy="310.10" r="2.25" fill="url(#gd)" stroke="#fff" stroke-opacity="0.6" stroke-width="0.4"/>
<circle cx="87.10" cy="313.70" r="2.25" fill="url(#gd)" stroke="#fff" stroke-opacity="0.6" stroke-width="0.4"/>
<circle cx="93.30" cy="314.20" r="2.25" fill="url(#gd)" stroke="#fff" stroke-opacity="0.6" stroke-width="0.4"/>
<circle cx="101.60" cy="296.10" r="2.25" fill="url(#gd)" stroke="#fff" stroke-opacity="0.6" stroke-width="0.4"/>
<circle cx="103.10" cy="298.70" r="2.25" fill="url(#gd)" stroke="#fff" stroke-opacity="0.6" stroke-width="0.4"/>
<circle cx="105.20" cy="295.50" r="2.25" fill="url(#gd)" stroke="#fff" stroke-opacity="0.6" stroke-width="0.4"/>
<circle cx="107.80" cy="291.90" r="2.25" fill="url(#gd)" stroke="#fff" stroke-opacity="0.6" stroke-width="0.4"/>
<circle cx="109.40" cy="293.50" r="2.25" fill="url(#gd)" stroke="#fff" stroke-opacity="0.6" stroke-width="0.4"/>
<circle cx="107.80" cy="301.20" r="2.25" fill="url(#gd)" stroke="#fff" stroke-opacity="0.6" stroke-width="0.4"/>
<circle cx="114.00" cy="294.50" r="2.25" fill="url(#gd)" stroke="#fff" stroke-opacity="0.6" stroke-width="0.4"/>
<circle cx="120.20" cy="298.10" r="2.25" fill="url(#gd)" stroke="#fff" stroke-opacity="0.6" stroke-width="0.4"/>
<line x1="25.3" y1="197.1" x2="226.4" y2="197.1" stroke="#999" stroke-width="1.2"/>
<line x1="226.4" y1="197.1" x2="226.4" y2="358.5" stroke="#505050" stroke-width="1.2"/>
<line x1="25.3" y1="196.5" x2="25.3" y2="359.1" stroke="#505050" stroke-width="1.2"/>
<line x1="24.7" y1="358.5" x2="227.0" y2="358.5" stroke="#505050" stroke-width="1.2"/>
<line x1="25.30" y1="358.5" x2="25.30" y2="362.1" stroke="#505050" stroke-width="1"/>
<text transform="translate(25.30,370.40) scale(0.82,1)" font-size="8.5" text-anchor="middle" fill="#333" stroke="#333" stroke-width="0.12">0</text>
<line x1="21.900000000000002" y1="358.50" x2="25.3" y2="358.50" stroke="#505050" stroke-width="1"/>
<text transform="translate(20.10,361.50) scale(0.82,1)" font-size="8.5" text-anchor="end" fill="#333" stroke="#333" stroke-width="0.12">0</text>
<line x1="56.24" y1="358.5" x2="56.24" y2="362.1" stroke="#505050" stroke-width="1"/>
<text transform="translate(56.24,370.40) scale(0.82,1)" font-size="8.5" text-anchor="middle" fill="#333" stroke="#333" stroke-width="0.12">10</text>
<line x1="21.900000000000002" y1="333.67" x2="25.3" y2="333.67" stroke="#505050" stroke-width="1"/>
<text transform="translate(20.10,336.67) scale(0.82,1)" font-size="8.5" text-anchor="end" fill="#333" stroke="#333" stroke-width="0.12">10</text>
<line x1="87.18" y1="358.5" x2="87.18" y2="362.1" stroke="#505050" stroke-width="1"/>
<text transform="translate(87.18,370.40) scale(0.82,1)" font-size="8.5" text-anchor="middle" fill="#333" stroke="#333" stroke-width="0.12">20</text>
<line x1="21.900000000000002" y1="308.84" x2="25.3" y2="308.84" stroke="#505050" stroke-width="1"/>
<text transform="translate(20.10,311.84) scale(0.82,1)" font-size="8.5" text-anchor="end" fill="#333" stroke="#333" stroke-width="0.12">20</text>
<line x1="118.12" y1="358.5" x2="118.12" y2="362.1" stroke="#505050" stroke-width="1"/>
<text transform="translate(118.12,370.40) scale(0.82,1)" font-size="8.5" text-anchor="middle" fill="#333" stroke="#333" stroke-width="0.12">30</text>
<line x1="21.900000000000002" y1="284.01" x2="25.3" y2="284.01" stroke="#505050" stroke-width="1"/>
<text transform="translate(20.10,287.01) scale(0.82,1)" font-size="8.5" text-anchor="end" fill="#333" stroke="#333" stroke-width="0.12">30</text>
<line x1="149.05" y1="358.5" x2="149.05" y2="362.1" stroke="#505050" stroke-width="1"/>
<text transform="translate(149.05,370.40) scale(0.82,1)" font-size="8.5" text-anchor="middle" fill="#333" stroke="#333" stroke-width="0.12">40</text>
<line x1="21.900000000000002" y1="259.18" x2="25.3" y2="259.18" stroke="#505050" stroke-width="1"/>
<text transform="translate(20.10,262.18) scale(0.82,1)" font-size="8.5" text-anchor="end" fill="#333" stroke="#333" stroke-width="0.12">40</text>
<line x1="179.99" y1="358.5" x2="179.99" y2="362.1" stroke="#505050" stroke-width="1"/>
<text transform="translate(179.99,370.40) scale(0.82,1)" font-size="8.5" text-anchor="middle" fill="#333" stroke="#333" stroke-width="0.12">50</text>
<line x1="21.900000000000002" y1="234.35" x2="25.3" y2="234.35" stroke="#505050" stroke-width="1"/>
<text transform="translate(20.10,237.35) scale(0.82,1)" font-size="8.5" text-anchor="end" fill="#333" stroke="#333" stroke-width="0.12">50</text>
<line x1="210.93" y1="358.5" x2="210.93" y2="362.1" stroke="#505050" stroke-width="1"/>
<text transform="translate(210.93,370.40) scale(0.82,1)" font-size="8.5" text-anchor="middle" fill="#333" stroke="#333" stroke-width="0.12">60</text>
<line x1="21.900000000000002" y1="209.52" x2="25.3" y2="209.52" stroke="#505050" stroke-width="1"/>
<text transform="translate(20.10,212.52) scale(0.82,1)" font-size="8.5" text-anchor="end" fill="#333" stroke="#333" stroke-width="0.12">60</text>
<text x="125.9" y="383.1" font-size="8.4" text-anchor="middle" fill="#222" stroke="#222" stroke-width="0.12">Real values(MPa)</text>
<text transform="translate(9.8,277.7) rotate(-90) scale(1,1.1)" font-size="8.65" text-anchor="middle" fill="#222" stroke="#222" stroke-width="0.12">Predicted values(MPa)</text>
<text x="28.5" y="209.5" font-size="12.5" fill="#222" stroke="#222" stroke-width="0.12">(d)</text>
<text transform="translate(157.4,312.3) scale(1,1.1)" font-size="9.25" fill="#d9464b" stroke="#d9464b" stroke-width="0.12">R<tspan font-size="6.4" dy="-2.3">2</tspan><tspan dy="2.3">=</tspan>0.9603</text>
<text transform="translate(157.4,323.5) scale(1,1.1)" font-size="9.25" fill="#d9464b" stroke="#d9464b" stroke-width="0.12">MSE=2.6454</text>
<text transform="translate(157.4,334.7) scale(1,1.1)" font-size="9.25" fill="#d9464b" stroke="#d9464b" stroke-width="0.12">MAE=0.9788</text>
<text transform="translate(157.4,345.9) scale(1,1.1)" font-size="9.25" fill="#d9464b" stroke="#d9464b" stroke-width="0.12">MAPE=0.0620</text>
<line x1="280.4" y1="218.4" x2="280.4" y2="352.4" stroke="#555" stroke-width="1.1"/>
<line x1="279.9" y1="351.9" x2="675.7" y2="351.9" stroke="#666" stroke-width="1.2"/>
<line x1="276.2" y1="339.90" x2="280.4" y2="339.90" stroke="#555" stroke-width="1"/>
<text x="274.29999999999995" y="343.00" font-size="8.9" text-anchor="end" fill="#333" stroke="#333" stroke-width="0.12">0</text>
<line x1="276.2" y1="315.60" x2="280.4" y2="315.60" stroke="#555" stroke-width="1"/>
<text x="274.29999999999995" y="318.70" font-size="8.9" text-anchor="end" fill="#333" stroke="#333" stroke-width="0.12">10</text>
<line x1="276.2" y1="291.30" x2="280.4" y2="291.30" stroke="#555" stroke-width="1"/>
<text x="274.29999999999995" y="294.40" font-size="8.9" text-anchor="end" fill="#333" stroke="#333" stroke-width="0.12">20</text>
<line x1="276.2" y1="267.00" x2="280.4" y2="267.00" stroke="#555" stroke-width="1"/>
<text x="274.29999999999995" y="270.10" font-size="8.9" text-anchor="end" fill="#333" stroke="#333" stroke-width="0.12">30</text>
<line x1="276.2" y1="242.70" x2="280.4" y2="242.70" stroke="#555" stroke-width="1"/>
<text x="274.29999999999995" y="245.80" font-size="8.9" text-anchor="end" fill="#333" stroke="#333" stroke-width="0.12">40</text>
<line x1="276.2" y1="218.40" x2="280.4" y2="218.40" stroke="#555" stroke-width="1"/>
<text x="274.29999999999995" y="221.50" font-size="8.9" text-anchor="end" fill="#333" stroke="#333" stroke-width="0.12">50</text>
<line x1="316.40" y1="351.9" x2="316.40" y2="355.7" stroke="#555" stroke-width="1"/>
<text x="316.40" y="364.60" font-size="8.9" text-anchor="middle" fill="#333" stroke="#333" stroke-width="0.12">0</text>
<line x1="388.16" y1="351.9" x2="388.16" y2="355.7" stroke="#555" stroke-width="1"/>
<text x="388.16" y="364.60" font-size="8.9" text-anchor="middle" fill="#333" stroke="#333" stroke-width="0.12">20</text>
<line x1="459.92" y1="351.9" x2="459.92" y2="355.7" stroke="#555" stroke-width="1"/>
<text x="459.92" y="364.60" font-size="8.9" text-anchor="middle" fill="#333" stroke="#333" stroke-width="0.12">40</text>
<line x1="531.68" y1="351.9" x2="531.68" y2="355.7" stroke="#555" stroke-width="1"/>
<text x="531.68" y="364.60" font-size="8.9" text-anchor="middle" fill="#333" stroke="#333" stroke-width="0.12">60</text>
<line x1="603.44" y1="351.9" x2="603.44" y2="355.7" stroke="#555" stroke-width="1"/>
<text x="603.44" y="364.60" font-size="8.9" text-anchor="middle" fill="#333" stroke="#333" stroke-width="0.12">80</text>
<line x1="675.20" y1="351.9" x2="675.20" y2="355.7" stroke="#555" stroke-width="1"/>
<text x="675.20" y="364.60" font-size="8.9" text-anchor="middle" fill="#333" stroke="#333" stroke-width="0.12">100</text>
<text x="478.3" y="381" font-size="10" text-anchor="middle" fill="#222" stroke="#222" stroke-width="0.12">Test sample index</text>
<text transform="translate(261.8,284) rotate(-90)" font-size="10" text-anchor="middle" fill="#222" stroke="#222" stroke-width="0.12">Residual strength(MPa)</text>
<text x="255.9" y="209.5" font-size="11.8" fill="#222" stroke="#222" stroke-width="0.12">(e)</text>
<polyline points="319.99,312.21 323.58,304.13 327.16,302.66 330.75,305.35 334.34,297.02 337.93,283.79 341.52,240.18 345.10,306.58 348.69,306.33 352.28,313.69 355.87,307.31 359.46,290.41 363.04,298.25 366.63,312.46 370.22,275.22 373.81,278.89 377.40,287.71 380.98,308.78 384.57,298.25 388.16,317.11 391.75,274.97 395.34,300.21 398.92,283.79 402.51,303.64 406.10,335.00 409.69,297.51 413.28,317.36 416.86,278.89 420.45,270.07 424.04,294.33 427.63,265.17 431.22,279.38 434.80,310.25 438.39,304.13 441.98,275.71 445.57,301.43 449.16,336.71 452.74,291.63 456.33,301.68 459.92,270.07 463.51,305.35 467.10,310.74 470.68,304.86 474.27,305.35 477.86,273.75 481.45,304.62 485.04,308.54 488.62,292.61 492.21,237.49 495.80,286.00 499.39,289.43 502.98,309.27 506.56,279.38 510.15,301.68 513.74,321.03 517.33,327.40 520.92,310.74 524.50,264.68 528.09,308.54 531.68,279.88 535.27,296.53 538.86,332.55 542.44,320.79 546.03,297.02 549.62,256.35 553.21,279.38 556.80,291.14 560.38,274.00 563.97,261.75 567.56,284.04 571.15,286.00 574.74,336.22 578.32,316.38 581.91,289.43 585.50,288.94 589.09,282.81 592.68,299.72 596.26,315.89 599.85,275.71 603.44,303.15 607.03,288.94 610.62,322.26 614.20,253.17 617.79,319.07 621.38,287.22 624.97,281.83 628.56,274.48 632.14,298.74 635.73,310.50 639.32,278.16 642.91,297.27" fill="none" stroke="#7fd67f" stroke-opacity="0.45" stroke-width="0.5"/>
<polyline points="319.99,312.21 323.58,309.03 327.16,302.66 330.75,307.07 334.34,297.02 337.93,283.79 341.52,237.49 345.10,306.58 348.69,297.76 352.28,312.95 355.87,307.31 359.46,284.77 363.04,298.25 366.63,312.46 370.22,278.16 373.81,283.30 377.40,287.71 380.98,308.78 384.57,299.96 388.16,316.62 391.75,283.30 395.34,300.21 398.92,283.79 402.51,303.64 406.10,334.26 409.69,293.10 413.28,317.36 416.86,278.89 420.45,273.50 424.04,292.12 427.63,273.01 431.22,279.38 434.80,306.09 438.39,304.13 441.98,274.48 445.57,300.45 449.16,334.02 452.74,292.61 456.33,301.68 459.92,274.97 463.51,305.35 467.10,310.74 470.68,303.15 474.27,305.35 477.86,273.75 481.45,303.15 485.04,308.54 488.62,292.61 492.21,246.31 495.80,289.18 499.39,289.43 502.98,308.54 506.56,279.38 510.15,296.53 513.74,321.03 517.33,323.00 520.92,310.74 524.50,254.15 528.09,308.54 531.68,280.61 535.27,296.53 538.86,329.61 542.44,320.79 546.03,300.94 549.62,250.47 553.21,284.53 556.80,298.50 560.38,274.00 563.97,257.33 567.56,284.04 571.15,286.00 574.74,333.04 578.32,310.50 581.91,289.43 585.50,287.96 589.09,282.81 592.68,297.76 596.26,312.21 599.85,278.16 603.44,304.13 607.03,288.94 610.62,319.32 614.20,265.66 617.79,319.07 621.38,281.34 624.97,281.83 628.56,274.48 632.14,300.45 635.73,310.50 639.32,280.61 642.91,297.27" fill="none" stroke="#a6f0a6" stroke-opacity="0.6" stroke-width="0.5"/>
<circle cx="319.99" cy="312.21" r="2.7" fill="#3fae3f"/>
<circle cx="323.58" cy="304.13" r="2.7" fill="#3fae3f"/>
<circle cx="327.16" cy="302.66" r="2.7" fill="#3fae3f"/>
<circle cx="330.75" cy="305.35" r="2.7" fill="#3fae3f"/>
<circle cx="334.34" cy="297.02" r="2.7" fill="#3fae3f"/>
<circle cx="337.93" cy="283.79" r="2.7" fill="#3fae3f"/>
<circle cx="341.52" cy="240.18" r="2.7" fill="#3fae3f"/>
<circle cx="345.10" cy="306.58" r="2.7" fill="#3fae3f"/>
<circle cx="348.69" cy="306.33" r="2.7" fill="#3fae3f"/>
<circle cx="352.28" cy="313.69" r="2.7" fill="#3fae3f"/>
<circle cx="355.87" cy="307.31" r="2.7" fill="#3fae3f"/>
<circle cx="359.46" cy="290.41" r="2.7" fill="#3fae3f"/>
<circle cx="363.04" cy="298.25" r="2.7" fill="#3fae3f"/>
<circle cx="366.63" cy="312.46" r="2.7" fill="#3fae3f"/>
<circle cx="370.22" cy="275.22" r="2.7" fill="#3fae3f"/>
<circle cx="373.81" cy="278.89" r="2.7" fill="#3fae3f"/>
<circle cx="377.40" cy="287.71" r="2.7" fill="#3fae3f"/>
<circle cx="380.98" cy="308.78" r="2.7" fill="#3fae3f"/>
<circle cx="384.57" cy="298.25" r="2.7" fill="#3fae3f"/>
<circle cx="388.16" cy="317.11" r="2.7" fill="#3fae3f"/>
<circle cx="391.75" cy="274.97" r="2.7" fill="#3fae3f"/>
<circle cx="395.34" cy="300.21" r="2.7" fill="#3fae3f"/>
<circle cx="398.92" cy="283.79" r="2.7" fill="#3fae3f"/>
<circle cx="402.51" cy="303.64" r="2.7" fill="#3fae3f"/>
<circle cx="406.10" cy="335.00" r="2.7" fill="#3fae3f"/>
<circle cx="409.69" cy="297.51" r="2.7" fill="#3fae3f"/>
<circle cx="413.28" cy="317.36" r="2.7" fill="#3fae3f"/>
<circle cx="416.86" cy="278.89" r="2.7" fill="#3fae3f"/>
<circle cx="420.45" cy="270.07" r="2.7" fill="#3fae3f"/>
<circle cx="424.04" cy="294.33" r="2.7" fill="#3fae3f"/>
<circle cx="427.63" cy="265.17" r="2.7" fill="#3fae3f"/>
<circle cx="431.22" cy="279.38" r="2.7" fill="#3fae3f"/>
<circle cx="434.80" cy="310.25" r="2.7" fill="#3fae3f"/>
<circle cx="438.39" cy="304.13" r="2.7" fill="#3fae3f"/>
<circle cx="441.98" cy="275.71" r="2.7" fill="#3fae3f"/>
<circle cx="445.57" cy="301.43" r="2.7" fill="#3fae3f"/>
<circle cx="449.16" cy="336.71" r="2.7" fill="#3fae3f"/>
<circle cx="452.74" cy="291.63" r="2.7" fill="#3fae3f"/>
<circle cx="456.33" cy="301.68" r="2.7" fill="#3fae3f"/>
<circle cx="459.92" cy="270.07" r="2.7" fill="#3fae3f"/>
<circle cx="463.51" cy="305.35" r="2.7" fill="#3fae3f"/>
<circle cx="467.10" cy="310.74" r="2.7" fill="#3fae3f"/>
<circle cx="470.68" cy="304.86" r="2.7" fill="#3fae3f"/>
<circle cx="474.27" cy="305.35" r="2.7" fill="#3fae3f"/>
<circle cx="477.86" cy="273.75" r="2.7" fill="#3fae3f"/>
<circle cx="481.45" cy="304.62" r="2.7" fill="#3fae3f"/>
<circle cx="485.04" cy="308.54" r="2.7" fill="#3fae3f"/>
<circle cx="488.62" cy="292.61" r="2.7" fill="#3fae3f"/>
<circle cx="492.21" cy="237.49" r="2.7" fill="#3fae3f"/>
<circle cx="495.80" cy="286.00" r="2.7" fill="#3fae3f"/>
<circle cx="499.39" cy="289.43" r="2.7" fill="#3fae3f"/>
<circle cx="502.98" cy="309.27" r="2.7" fill="#3fae3f"/>
<circle cx="506.56" cy="279.38" r="2.7" fill="#3fae3f"/>
<circle cx="510.15" cy="301.68" r="2.7" fill="#3fae3f"/>
<circle cx="513.74" cy="321.03" r="2.7" fill="#3fae3f"/>
<circle cx="517.33" cy="327.40" r="2.7" fill="#3fae3f"/>
<circle cx="520.92" cy="310.74" r="2.7" fill="#3fae3f"/>
<circle cx="524.50" cy="264.68" r="2.7" fill="#3fae3f"/>
<circle cx="528.09" cy="308.54" r="2.7" fill="#3fae3f"/>
<circle cx="531.68" cy="279.88" r="2.7" fill="#3fae3f"/>
<circle cx="535.27" cy="296.53" r="2.7" fill="#3fae3f"/>
<circle cx="538.86" cy="332.55" r="2.7" fill="#3fae3f"/>
<circle cx="542.44" cy="320.79" r="2.7" fill="#3fae3f"/>
<circle cx="546.03" cy="297.02" r="2.7" fill="#3fae3f"/>
<circle cx="549.62" cy="256.35" r="2.7" fill="#3fae3f"/>
<circle cx="553.21" cy="279.38" r="2.7" fill="#3fae3f"/>
<circle cx="556.80" cy="291.14" r="2.7" fill="#3fae3f"/>
<circle cx="560.38" cy="274.00" r="2.7" fill="#3fae3f"/>
<circle cx="563.97" cy="261.75" r="2.7" fill="#3fae3f"/>
<circle cx="567.56" cy="284.04" r="2.7" fill="#3fae3f"/>
<circle cx="571.15" cy="286.00" r="2.7" fill="#3fae3f"/>
<circle cx="574.74" cy="336.22" r="2.7" fill="#3fae3f"/>
<circle cx="578.32" cy="316.38" r="2.7" fill="#3fae3f"/>
<circle cx="581.91" cy="289.43" r="2.7" fill="#3fae3f"/>
<circle cx="585.50" cy="288.94" r="2.7" fill="#3fae3f"/>
<circle cx="589.09" cy="282.81" r="2.7" fill="#3fae3f"/>
<circle cx="592.68" cy="299.72" r="2.7" fill="#3fae3f"/>
<circle cx="596.26" cy="315.89" r="2.7" fill="#3fae3f"/>
<circle cx="599.85" cy="275.71" r="2.7" fill="#3fae3f"/>
<circle cx="603.44" cy="303.15" r="2.7" fill="#3fae3f"/>
<circle cx="607.03" cy="288.94" r="2.7" fill="#3fae3f"/>
<circle cx="610.62" cy="322.26" r="2.7" fill="#3fae3f"/>
<circle cx="614.20" cy="253.17" r="2.7" fill="#3fae3f"/>
<circle cx="617.79" cy="319.07" r="2.7" fill="#3fae3f"/>
<circle cx="621.38" cy="287.22" r="2.7" fill="#3fae3f"/>
<circle cx="624.97" cy="281.83" r="2.7" fill="#3fae3f"/>
<circle cx="628.56" cy="274.48" r="2.7" fill="#3fae3f"/>
<circle cx="632.14" cy="298.74" r="2.7" fill="#3fae3f"/>
<circle cx="635.73" cy="310.50" r="2.7" fill="#3fae3f"/>
<circle cx="639.32" cy="278.16" r="2.7" fill="#3fae3f"/>
<circle cx="642.91" cy="297.27" r="2.7" fill="#3fae3f"/>
<circle cx="319.99" cy="312.21" r="2.7" fill="#92e892"/>
<circle cx="323.58" cy="309.03" r="2.7" fill="#92e892"/>
<circle cx="327.16" cy="302.66" r="2.7" fill="#92e892"/>
<circle cx="330.75" cy="307.07" r="2.7" fill="#92e892"/>
<circle cx="334.34" cy="297.02" r="2.7" fill="#92e892"/>
<circle cx="337.93" cy="283.79" r="2.7" fill="#92e892"/>
<circle cx="341.52" cy="237.49" r="2.7" fill="#92e892"/>
<circle cx="345.10" cy="306.58" r="2.7" fill="#92e892"/>
<circle cx="348.69" cy="297.76" r="2.7" fill="#92e892"/>
<circle cx="352.28" cy="312.95" r="2.7" fill="#92e892"/>
<circle cx="355.87" cy="307.31" r="2.7" fill="#92e892"/>
<circle cx="359.46" cy="284.77" r="2.7" fill="#92e892"/>
<circle cx="363.04" cy="298.25" r="2.7" fill="#92e892"/>
<circle cx="366.63" cy="312.46" r="2.7" fill="#92e892"/>
<circle cx="370.22" cy="278.16" r="2.7" fill="#92e892"/>
<circle cx="373.81" cy="283.30" r="2.7" fill="#92e892"/>
<circle cx="377.40" cy="287.71" r="2.7" fill="#92e892"/>
<circle cx="380.98" cy="308.78" r="2.7" fill="#92e892"/>
<circle cx="384.57" cy="299.96" r="2.7" fill="#92e892"/>
<circle cx="388.16" cy="316.62" r="2.7" fill="#92e892"/>
<circle cx="391.75" cy="283.30" r="2.7" fill="#92e892"/>
<circle cx="395.34" cy="300.21" r="2.7" fill="#92e892"/>
<circle cx="398.92" cy="283.79" r="2.7" fill="#92e892"/>
<circle cx="402.51" cy="303.64" r="2.7" fill="#92e892"/>
<circle cx="406.10" cy="334.26" r="2.7" fill="#92e892"/>
<circle cx="409.69" cy="293.10" r="2.7" fill="#92e892"/>
<circle cx="413.28" cy="317.36" r="2.7" fill="#92e892"/>
<circle cx="416.86" cy="278.89" r="2.7" fill="#92e892"/>
<circle cx="420.45" cy="273.50" r="2.7" fill="#92e892"/>
<circle cx="424.04" cy="292.12" r="2.7" fill="#92e892"/>
<circle cx="427.63" cy="273.01" r="2.7" fill="#92e892"/>
<circle cx="431.22" cy="279.38" r="2.7" fill="#92e892"/>
<circle cx="434.80" cy="306.09" r="2.7" fill="#92e892"/>
<circle cx="438.39" cy="304.13" r="2.7" fill="#92e892"/>
<circle cx="441.98" cy="274.48" r="2.7" fill="#92e892"/>
<circle cx="445.57" cy="300.45" r="2.7" fill="#92e892"/>
<circle cx="449.16" cy="334.02" r="2.7" fill="#92e892"/>
<circle cx="452.74" cy="292.61" r="2.7" fill="#92e892"/>
<circle cx="456.33" cy="301.68" r="2.7" fill="#92e892"/>
<circle cx="459.92" cy="274.97" r="2.7" fill="#92e892"/>
<circle cx="463.51" cy="305.35" r="2.7" fill="#92e892"/>
<circle cx="467.10" cy="310.74" r="2.7" fill="#92e892"/>
<circle cx="470.68" cy="303.15" r="2.7" fill="#92e892"/>
<circle cx="474.27" cy="305.35" r="2.7" fill="#92e892"/>
<circle cx="477.86" cy="273.75" r="2.7" fill="#92e892"/>
<circle cx="481.45" cy="303.15" r="2.7" fill="#92e892"/>
<circle cx="485.04" cy="308.54" r="2.7" fill="#92e892"/>
<circle cx="488.62" cy="292.61" r="2.7" fill="#92e892"/>
<circle cx="492.21" cy="246.31" r="2.7" fill="#92e892"/>
<circle cx="495.80" cy="289.18" r="2.7" fill="#92e892"/>
<circle cx="499.39" cy="289.43" r="2.7" fill="#92e892"/>
<circle cx="502.98" cy="308.54" r="2.7" fill="#92e892"/>
<circle cx="506.56" cy="279.38" r="2.7" fill="#92e892"/>
<circle cx="510.15" cy="296.53" r="2.7" fill="#92e892"/>
<circle cx="513.74" cy="321.03" r="2.7" fill="#92e892"/>
<circle cx="517.33" cy="323.00" r="2.7" fill="#92e892"/>
<circle cx="520.92" cy="310.74" r="2.7" fill="#92e892"/>
<circle cx="524.50" cy="254.15" r="2.7" fill="#92e892"/>
<circle cx="528.09" cy="308.54" r="2.7" fill="#92e892"/>
<circle cx="531.68" cy="280.61" r="2.7" fill="#92e892"/>
<circle cx="535.27" cy="296.53" r="2.7" fill="#92e892"/>
<circle cx="538.86" cy="329.61" r="2.7" fill="#92e892"/>
<circle cx="542.44" cy="320.79" r="2.7" fill="#92e892"/>
<circle cx="546.03" cy="300.94" r="2.7" fill="#92e892"/>
<circle cx="549.62" cy="250.47" r="2.7" fill="#92e892"/>
<circle cx="553.21" cy="284.53" r="2.7" fill="#92e892"/>
<circle cx="556.80" cy="298.50" r="2.7" fill="#92e892"/>
<circle cx="560.38" cy="274.00" r="2.7" fill="#92e892"/>
<circle cx="563.97" cy="257.33" r="2.7" fill="#92e892"/>
<circle cx="567.56" cy="284.04" r="2.7" fill="#92e892"/>
<circle cx="571.15" cy="286.00" r="2.7" fill="#92e892"/>
<circle cx="574.74" cy="333.04" r="2.7" fill="#92e892"/>
<circle cx="578.32" cy="310.50" r="2.7" fill="#92e892"/>
<circle cx="581.91" cy="289.43" r="2.7" fill="#92e892"/>
<circle cx="585.50" cy="287.96" r="2.7" fill="#92e892"/>
<circle cx="589.09" cy="282.81" r="2.7" fill="#92e892"/>
<circle cx="592.68" cy="297.76" r="2.7" fill="#92e892"/>
<circle cx="596.26" cy="312.21" r="2.7" fill="#92e892"/>
<circle cx="599.85" cy="278.16" r="2.7" fill="#92e892"/>
<circle cx="603.44" cy="304.13" r="2.7" fill="#92e892"/>
<circle cx="607.03" cy="288.94" r="2.7" fill="#92e892"/>
<circle cx="610.62" cy="319.32" r="2.7" fill="#92e892"/>
<circle cx="614.20" cy="265.66" r="2.7" fill="#92e892"/>
<circle cx="617.79" cy="319.07" r="2.7" fill="#92e892"/>
<circle cx="621.38" cy="281.34" r="2.7" fill="#92e892"/>
<circle cx="624.97" cy="281.83" r="2.7" fill="#92e892"/>
<circle cx="628.56" cy="274.48" r="2.7" fill="#92e892"/>
<circle cx="632.14" cy="300.45" r="2.7" fill="#92e892"/>
<circle cx="635.73" cy="310.50" r="2.7" fill="#92e892"/>
<circle cx="639.32" cy="280.61" r="2.7" fill="#92e892"/>
<circle cx="642.91" cy="297.27" r="2.7" fill="#92e892"/>
<line x1="550.2" y1="230.3" x2="572.2" y2="230.3" stroke="#6fcf6f" stroke-width="0.7"/>
<circle cx="561.2" cy="230.3" r="2.7" fill="#3fae3f"/>
<text x="575.3" y="233.6" font-size="9.65" fill="#222" stroke="#222" stroke-width="0.12">Real</text>
<line x1="593" y1="230.3" x2="615" y2="230.3" stroke="#a6f0a6" stroke-width="0.7"/>
<circle cx="604.1" cy="230.3" r="2.7" fill="#92e892"/>
<text x="618.3" y="233.6" font-size="9.65" fill="#222" stroke="#222" stroke-width="0.12">Prediction</text>
<line x1="228.3" y1="0" x2="228.3" y2="189" stroke="#f1f1f1" stroke-width="1"/>
<line x1="456.3" y1="0" x2="456.3" y2="189" stroke="#f3f3f3" stroke-width="1"/>
<line x1="227.6" y1="197" x2="227.6" y2="386" stroke="#f3f3f3" stroke-width="1"/>
<line x1="250.4" y1="203" x2="250.4" y2="386" stroke="#f1f1f1" stroke-width="1"/>
</svg>
</body></html>
